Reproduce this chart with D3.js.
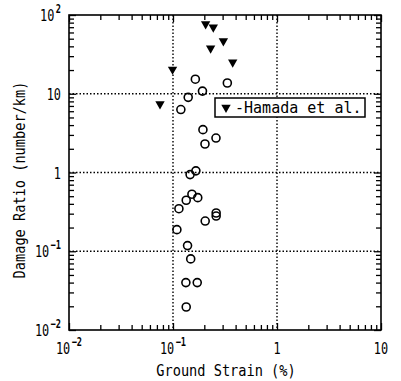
<!DOCTYPE html>
<html>
<head>
<meta charset="utf-8">
<script src="https://cdn.jsdelivr.net/npm/d3@7"></script>
<style>
  body { margin: 0; background: #fff; }
  svg { display: block; }
  .tick-label { font-family: "DejaVu Sans Mono", "Liberation Mono", monospace; font-size: 16.5px; fill: #000; }
  .title { font-family: "DejaVu Sans Mono", "Liberation Mono", monospace; font-size: 15.5px; fill: #000; }
</style>
</head>
<body>
<div id="chart"></div>
<script>
// data
const hamadaStrain = [0.206, 0.244, 0.305, 0.230, 0.375, 0.099, 0.075];
const hamadaRatio  = [76.9, 69.8, 46.8, 37.8, 25.1, 20.4, 7.4];

const otherStrain = [0.164, 0.333, 0.192, 0.140, 0.119, 0.194, 0.259, 0.203, 0.166, 0.146,
                     0.152, 0.173, 0.134, 0.114, 0.260, 0.260, 0.204, 0.109, 0.138, 0.148,
                     0.133, 0.171, 0.134];
const otherRatio  = [15.3, 13.7, 10.8, 9.0, 6.3, 3.5, 2.74, 2.30, 1.05, 0.94,
                     0.53, 0.479, 0.444, 0.347, 0.306, 0.280, 0.242, 0.188, 0.118, 0.080,
                     0.040, 0.040, 0.0196];

const xTicks = [0.01, 0.1, 1, 10];
const xTickLabels = [["10", "\u22122"], ["10", "\u22121"], ["1", ""], ["10", ""]];
const yTicks = [0.01, 0.1, 1, 10, 100];
const yTickLabels = [["10", "\u22122"], ["10", "\u22121"], ["1", ""], ["10", ""], ["10", "2"]];
const xGrid = [0.1, 1];
const yGrid = [0.1, 1, 10];

const legendLabel = "-Hamada et al.";
const xTitle = "Ground Strain (%)";
const yTitle = "Damage Ratio (number/km)";

const W = 401, H = 381;
const margin = {top: 15, right: 20, bottom: 51, left: 69};
const width = W - margin.left - margin.right,
      height = H - margin.top - margin.bottom;

const svg = d3.select("#chart")
  .append("svg")
  .attr("width", W)
  .attr("height", H);

const g = svg.append("g")
  .attr("transform", `translate(${margin.left},${margin.top})`);

const x = d3.scaleLog().domain([0.01, 10]).range([0, width]);
const y = d3.scaleLog().domain([0.01, 100]).range([height, 0]);

// minor tick values 2..9 in every decade
function minorTicks(lo, hi) {
  const out = [];
  for (let e = Math.log10(lo); e < Math.log10(hi); e++) {
    for (let m = 2; m <= 9; m++) out.push(m * Math.pow(10, e));
  }
  return out;
}
const xMinor = minorTicks(0.01, 10);
const yMinor = minorTicks(0.01, 100);

// grid lines (dotted)
g.selectAll(".xgrid")
  .data(xGrid)
  .join("line")
    .attr("x1", d => x(d)).attr("x2", d => x(d))
    .attr("y1", 0).attr("y2", height)
    .attr("stroke", "#000")
    .attr("stroke-width", 1.4)
    .attr("stroke-dasharray", "1.5,2");
g.selectAll(".ygrid")
  .data(yGrid)
  .join("line")
    .attr("x1", 0).attr("x2", width)
    .attr("y1", d => y(d)).attr("y2", d => y(d))
    .attr("stroke", "#000")
    .attr("stroke-width", 1.4)
    .attr("stroke-dasharray", "1.5,2");

// inward ticks on all four sides
function tickAxis(axis, vals, len, transform) {
  const a = g.append("g")
    .attr("transform", transform)
    .call(axis.tickValues(vals).tickSize(-len).tickFormat(""));
  a.select(".domain").remove();
  a.selectAll(".tick line").attr("stroke", "#000").attr("stroke-width", 1.3);
}
tickAxis(d3.axisBottom(x), xMinor, 5, `translate(0,${height})`);
tickAxis(d3.axisBottom(x), xTicks, 7, `translate(0,${height})`);
tickAxis(d3.axisTop(x), xMinor, 5, "translate(0,0)");
tickAxis(d3.axisTop(x), xTicks, 7, "translate(0,0)");
tickAxis(d3.axisLeft(y), yMinor, 5, "translate(0,0)");
tickAxis(d3.axisLeft(y), yTicks, 7, "translate(0,0)");
tickAxis(d3.axisRight(y), yMinor, 5, `translate(${width},0)`);
tickAxis(d3.axisRight(y), yTicks, 7, `translate(${width},0)`);

// frame
g.append("rect")
  .attr("width", width)
  .attr("height", height)
  .attr("fill", "none")
  .attr("stroke", "#000")
  .attr("stroke-width", 1.6);

// tick labels with superscripts, squeezed horizontally like the original font
function addLabel(sel, lab) {
  sel.append("tspan").text(lab[0]);
  if (lab[1]) {
    sel.append("tspan")
      .attr("dy", -8)
      .attr("font-size", 12)
      .attr("font-weight", "bold")
      .attr("dx", 2)
      .text(lab[1]);
  }
}
xTicks.forEach((v, i) => {
  const t = g.append("text")
    .attr("class", "tick-label")
    .attr("transform", `translate(${x(v)},${height + 24}) scale(0.72,1)`)
    .attr("text-anchor", "middle");
  addLabel(t, xTickLabels[i]);
});
yTicks.forEach((v, i) => {
  const t = g.append("text")
    .attr("class", "tick-label")
    .attr("transform", `translate(-8,${y(v) + 6}) scale(0.72,1)`)
    .attr("text-anchor", "end");
  addLabel(t, yTickLabels[i]);
});

// axis titles
svg.append("text")
  .attr("class", "title")
  .attr("transform", `translate(${margin.left + width / 2 + 1},376) scale(0.88,1)`)
  .attr("text-anchor", "middle")
  .text(xTitle);
svg.append("text")
  .attr("class", "title")
  .attr("transform", "translate(25,180) rotate(-90) scale(0.88,1)")
  .attr("text-anchor", "middle")
  .text(yTitle);

// open circles
g.selectAll(".circ")
  .data(otherStrain.map((s, i) => [s, otherRatio[i]]))
  .join("circle")
    .attr("cx", d => x(d[0]))
    .attr("cy", d => y(d[1]))
    .attr("r", 4)
    .attr("fill", "none")
    .attr("stroke", "#000")
    .attr("stroke-width", 1.6);

// Hamada et al. (filled down triangles)
const tri = d3.symbol().type(d3.symbolTriangle).size(38);
g.selectAll(".tri")
  .data(hamadaStrain.map((s, i) => [s, hamadaRatio[i]]))
  .join("path")
    .attr("d", tri)
    .attr("transform", d => `translate(${x(d[0])},${y(d[1])}) rotate(180)`)
    .attr("fill", "#000");

// legend
const lg = svg.append("g").attr("transform", "translate(215,98)");
lg.append("rect")
  .attr("width", 150)
  .attr("height", 19)
  .attr("fill", "#fff")
  .attr("stroke", "#000")
  .attr("stroke-width", 1.5);
lg.append("path")
  .attr("d", tri)
  .attr("transform", "translate(11,9.5) rotate(180)")
  .attr("fill", "#000");
lg.append("text")
  .attr("class", "title")
  .attr("transform", "translate(20,15) scale(0.97,1)")
  .text(legendLabel);
</script>
</body>
</html>
